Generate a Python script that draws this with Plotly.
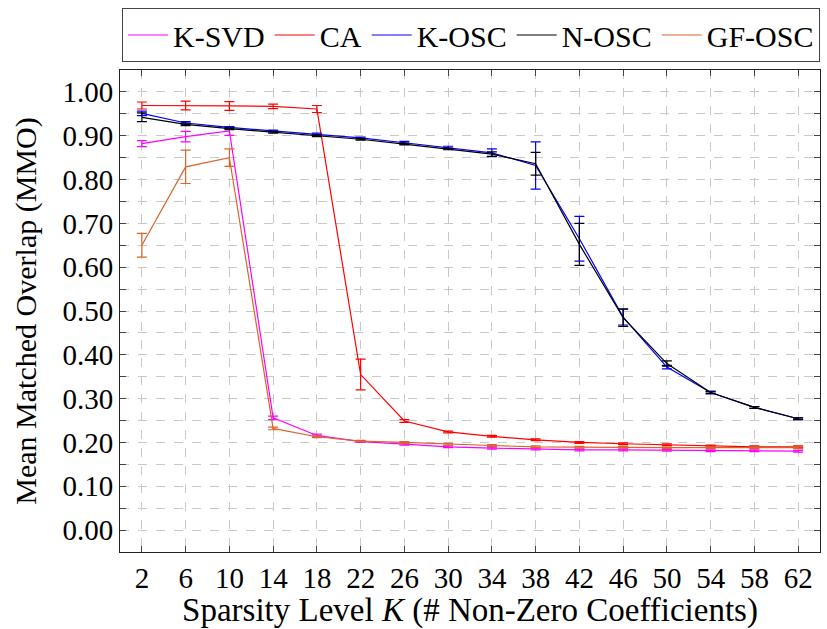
import plotly.graph_objects as go

K = [2, 6, 10, 14, 18, 22, 26, 30, 34, 38, 42, 46, 50, 54, 58, 62]

ksvd = [0.882, 0.898, 0.911, 0.256, 0.216, 0.202, 0.196, 0.190, 0.187, 0.185, 0.183, 0.183, 0.182, 0.181, 0.181, 0.180]
ksvd_err = [0.007, 0.012, 0.010, 0.004, 0.003, 0.002, 0.002, 0.002, 0.002, 0.002, 0.002, 0.002, 0.002, 0.002, 0.002, 0.002]

ca = [0.969, 0.969, 0.968, 0.967, 0.961, 0.355, 0.249, 0.224, 0.214, 0.206, 0.200, 0.197, 0.195, 0.192, 0.190, 0.190]
ca_err = [0.008, 0.010, 0.010, 0.005, 0.008, 0.035, 0.003, 0.002, 0.002, 0.002, 0.002, 0.002, 0.002, 0.002, 0.002, 0.002]

kosc = [0.951, 0.929, 0.919, 0.911, 0.903, 0.895, 0.884, 0.873, 0.861, 0.832, 0.665, 0.486, 0.372, 0.314, 0.280, 0.254]
kosc_err = [0.005, 0.003, 0.002, 0.002, 0.003, 0.002, 0.003, 0.003, 0.009, 0.054, 0.051, 0.018, 0.004, 0.003, 0.002, 0.002]

nosc = [0.942, 0.926, 0.916, 0.908, 0.900, 0.892, 0.881, 0.870, 0.858, 0.836, 0.652, 0.485, 0.380, 0.314, 0.280, 0.254]
nosc_err = [0.010, 0.003, 0.002, 0.002, 0.002, 0.002, 0.002, 0.002, 0.005, 0.026, 0.048, 0.020, 0.006, 0.002, 0.002, 0.002]

gfosc = [0.650, 0.829, 0.850, 0.232, 0.213, 0.203, 0.200, 0.196, 0.193, 0.190, 0.189, 0.189, 0.188, 0.188, 0.188, 0.188]
gfosc_err = [0.027, 0.038, 0.020, 0.003, 0.002, 0.002, 0.002, 0.002, 0.002, 0.002, 0.002, 0.002, 0.002, 0.002, 0.002, 0.002]

series = [
    ("K-SVD", ksvd, ksvd_err, "#ff00ff"),
    ("CA", ca, ca_err, "#ff0000"),
    ("K-OSC", kosc, kosc_err, "#0000ff"),
    ("N-OSC", nosc, nosc_err, "#000000"),
    ("GF-OSC", gfosc, gfosc_err, "#d9652b"),
]

FONT = "Liberation Serif, Times New Roman, DejaVu Serif, serif"

fig = go.Figure()
for name, vals, err, col in series:
    fig.add_trace(go.Scatter(
        x=K, y=vals, name=name, mode="lines",
        line=dict(color=col, width=1.2),
        error_y=dict(type="data", array=err, visible=True, color=col, thickness=1.2, width=5),
    ))

fig.update_layout(
    width=827, height=629,
    margin=dict(l=120, r=7, t=70, b=77),
    paper_bgcolor="white", plot_bgcolor="white",
    font=dict(family=FONT, size=29, color="black"),
    showlegend=True,
    legend=dict(
        orientation="h", x=1.0, xanchor="right", y=1.1286, yanchor="top",
        bordercolor="#444444", borderwidth=1, font=dict(size=30, family=FONT),
        itemwidth=40, tracegroupgap=0,
    ),
    xaxis=dict(
        range=[0, 64], tickmode="array", tickvals=K, ticktext=[str(k) for k in K],
        ticks="inside", ticklen=6, tickcolor="#444444", mirror="ticks",
        showline=True, linecolor="#222222", linewidth=1,
        showgrid=True, gridcolor="#c8c8c8", griddash="dash", gridwidth=1,
        zeroline=False, automargin=False,
        title=dict(text="Sparsity Level <i>K</i> (# Non-Zero Coefficients)", font=dict(size=33, family=FONT), standoff=4),
        tickfont=dict(size=29, family=FONT),
    ),
    yaxis=dict(
        range=[-0.05, 1.05], tickmode="linear", tick0=0, dtick=0.1, tickformat=".2f",
        ticks="inside", ticklen=6, tickcolor="#444444", mirror="ticks",
        showline=True, linecolor="#222222", linewidth=1,
        showgrid=True, gridcolor="#c8c8c8", griddash="dash", gridwidth=1,
        zeroline=False, automargin=False,
        minor=dict(dtick=0.05, ticks="inside", ticklen=6, tickcolor="#444444",
                   showgrid=True, gridcolor="#c8c8c8", griddash="dash", gridwidth=1),
        title=dict(text="Mean Matched Overlap (MMO)", font=dict(size=30, family=FONT), standoff=16),
        tickfont=dict(size=29, family=FONT),
    ),
)

fig.write_html("out.html", post_script="document.body.style.margin='0';",
               config={"displayModeBar": False})
